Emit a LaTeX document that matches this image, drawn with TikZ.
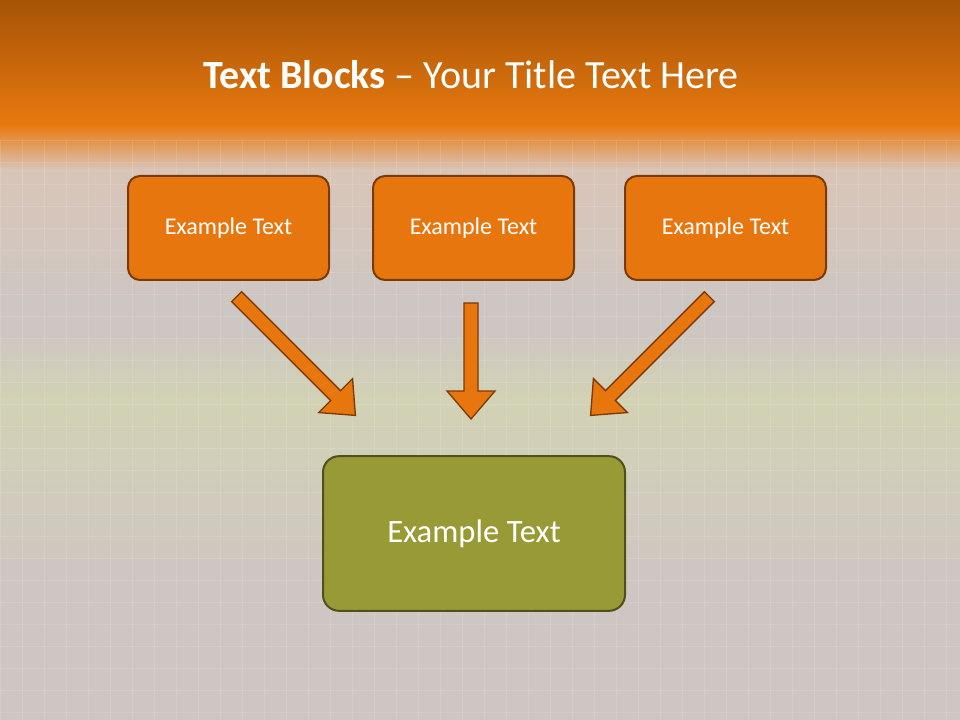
\documentclass[tikz,border=0pt]{standalone}
\usepackage{fontspec}
\setmainfont{Carlito}
\begin{document}
\begin{tikzpicture}[x=0.75pt,y=0.75pt,
  obox/.style={draw=oborder,line width=1.5pt,fill=ofill,rounded corners=9pt,minimum width=150.75pt,minimum height=78pt,text=white,font=\fontsize{18}{21}\selectfont},
  gbox/.style={draw=gborder,line width=1.5pt,fill=gfill,rounded corners=12pt,minimum width=226.5pt,minimum height=116pt,text=white,font=\fontsize{24.5}{28}\selectfont},
  barrow/.style={draw=oborder,line width=1pt,fill=ofill}]
\definecolor{ofill}{HTML}{E8760F}
\definecolor{oborder}{HTML}{7A3A05}
\definecolor{gfill}{HTML}{979A35}
\definecolor{gborder}{HTML}{50501C}
\definecolor{topc}{HTML}{A65406}
\definecolor{bandc}{HTML}{E8790F}
\definecolor{bgc}{HTML}{CEC6C2}
\definecolor{fadec}{HTML}{D9C5B8}
\definecolor{greenish}{HTML}{D2D2B4}
\useasboundingbox (0,0) rectangle (960,-720);
\fill[bgc] (0,0) rectangle (960,-720);
\shade[top color=topc,bottom color=bandc] (0,0) rectangle (960,-125);
\shade[top color=bandc,bottom color=fadec] (0,-125) rectangle (960,-170);
\shade[top color=fadec,bottom color=bgc] (0,-170) rectangle (960,-300);
\shade[top color=bgc,bottom color=greenish] (0,-330) rectangle (960,-400);
\shade[top color=greenish,bottom color=bgc] (0,-400) rectangle (960,-580);
\foreach \i in {0,22,...,960} \draw[white,opacity=0.12] (\i,-140) -- (\i,-720);
\foreach \j in {140,162,...,720} \draw[white,opacity=0.12] (0,-\j) -- (960,-\j);
\node (title) at (471,-75) {\fontsize{30}{36}\selectfont\color{white}\textbf{Text Blocks} – Your Title Text Here};
\node[obox] (b1) at (228.5,-228) {Example Text};
\node[obox] (b2) at (473.5,-228) {Example Text};
\node[obox] (b3) at (725.5,-228) {Example Text};
\node[gbox] (g) at (474,-533.5) {Example Text};
\begin{scope}[shift={(296,-356)},rotate=-45]
\draw[barrow] (-84,-7) -- (56,-7) -- (56,-24) -- (84,0) -- (56,24) -- (56,7) -- (-84,7) -- cycle;
\end{scope}
\begin{scope}[shift={(471,-361)},rotate=-90]
\draw[barrow] (-58,-7) -- (30,-7) -- (30,-24) -- (58,0) -- (30,24) -- (30,7) -- (-58,7) -- cycle;
\end{scope}
\begin{scope}[shift={(650,-356)},rotate=-135]
\draw[barrow] (-84,-7) -- (56,-7) -- (56,-24) -- (84,0) -- (56,24) -- (56,7) -- (-84,7) -- cycle;
\end{scope}
\end{tikzpicture}
\end{document}
